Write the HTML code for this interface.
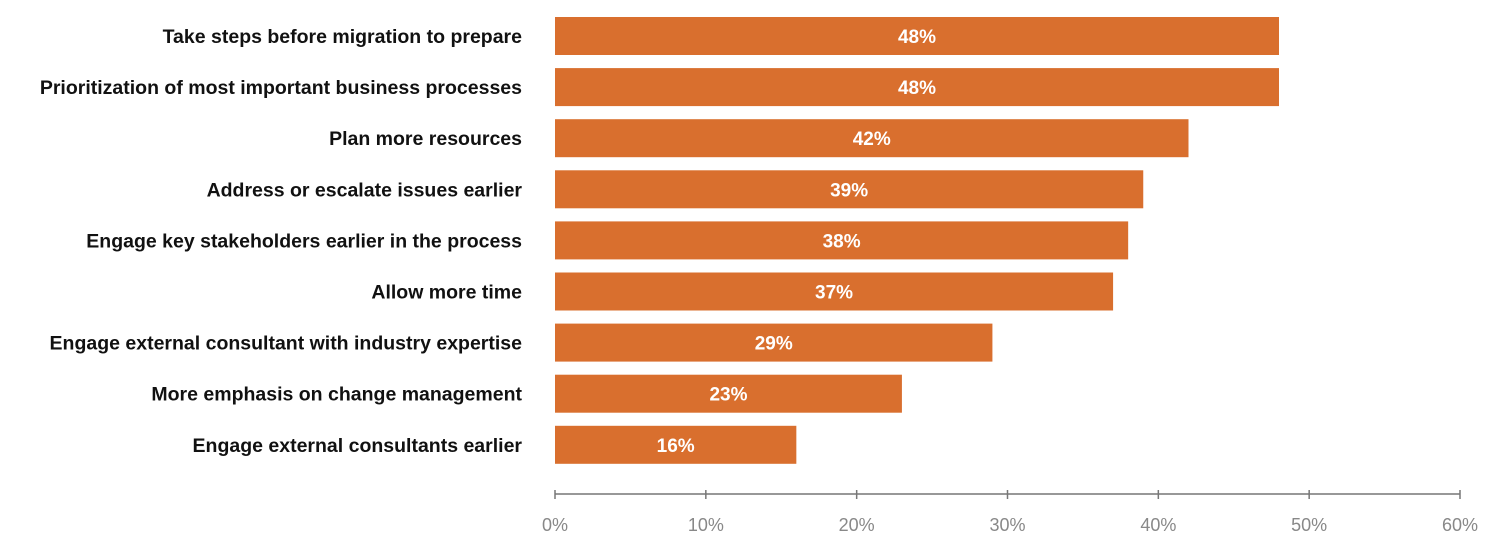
<!DOCTYPE html>
<html><head><meta charset="utf-8"><style>
body{margin:0;background:#fff;width:1488px;height:543px;overflow:hidden;font-family:"Liberation Sans",sans-serif}
</style></head><body>
<svg id="chart" width="1488" height="543" xmlns="http://www.w3.org/2000/svg"></svg>
<script>
const categories=["Take steps before migration to prepare","Prioritization of most important business processes","Plan more resources","Address or escalate issues earlier","Engage key stakeholders earlier in the process","Allow more time","Engage external consultant with industry expertise","More emphasis on change management","Engage external consultants earlier"];
const values=[48,48,42,39,38,37,29,23,16];
const ticks=[0,10,20,30,40,50,60];
const tickLabels=["0%","10%","20%","30%","40%","50%","60%"];
const svg=document.getElementById('chart');
const NS="http://www.w3.org/2000/svg";
const x0=555,x1=1460,xmax=60;
const xs=v=>x0+(v/xmax)*(x1-x0);
const yTop=17,step=51.1,bh=38;
function mk(t,a){const e=document.createElementNS(NS,t);for(const k in a)e.setAttribute(k,a[k]);svg.appendChild(e);return e;}
categories.forEach((c,i)=>{
 const y=yTop+i*step;
 const r=mk('rect',{x:x0,y:y,width:xs(values[i])-x0,height:bh,fill:'#D96F2E'});
 
 
 const t=mk('text',{x:(x0+xs(values[i]))/2,y:y+bh/2+7,'text-anchor':'middle',fill:'#fff','font-size':19,'font-weight':'bold'});
 t.textContent=values[i]+'%';
 
 
 const l=mk('text',{x:522,y:y+bh/2+7,'text-anchor':'end',fill:'#111','font-size':19.5,'font-weight':'bold'});
 l.textContent=c;
 
 
});
const ax=mk('line',{x1:x0,x2:x1,y1:494,y2:494,stroke:'#777','stroke-width':1.5});


ticks.forEach((v,i)=>{
 const tk=mk('line',{x1:xs(v),x2:xs(v),y1:490,y2:499,stroke:'#777','stroke-width':1.5});
 
 
 const tl=mk('text',{x:xs(v),y:531,'text-anchor':'middle',fill:'#888','font-size':18});
 tl.textContent=tickLabels[i];
 
 
});
</script>
</body></html>
